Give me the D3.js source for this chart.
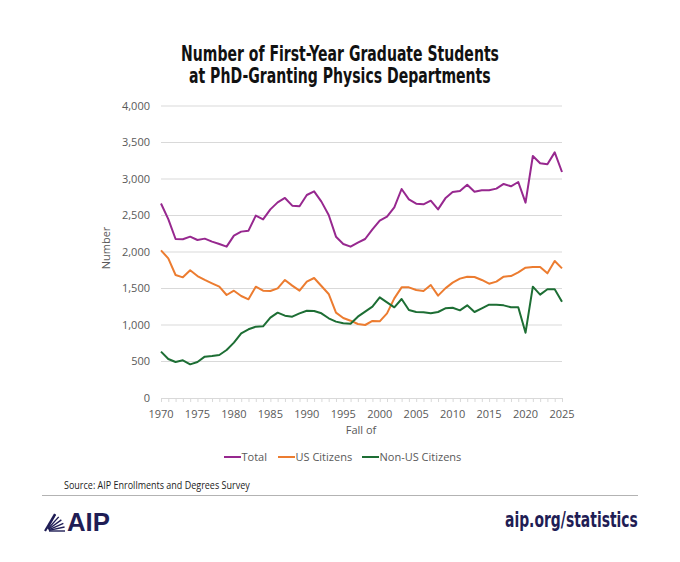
<!DOCTYPE html>
<html>
<head>
<meta charset="utf-8">
<script src="https://cdn.jsdelivr.net/npm/d3@7"></script>
<style>
  body { margin: 0; background: #fff; }
  svg { display: block; }
</style>
</head>
<body>
<div id="chart"></div>
<script>
// fall of each year
const years = d3.range(1970, 2026);

const total = [2665, 2450, 2178, 2174, 2210, 2164, 2183, 2142, 2110, 2073,
  2224, 2279, 2292, 2498, 2447, 2584, 2680, 2740, 2635, 2626,
  2781, 2831, 2690, 2507, 2210, 2110, 2073, 2128, 2178, 2310,
  2429, 2484, 2612, 2863, 2721, 2662, 2653, 2703, 2584, 2735,
  2822, 2836, 2922, 2826, 2845, 2845, 2868, 2932, 2900, 2959,
  2676, 3315, 3215, 3201, 3365, 3096];

const usCitizens = [2023, 1913, 1685, 1653, 1749, 1671, 1617, 1571, 1525, 1411,
  1470, 1397, 1352, 1525, 1470, 1466, 1502, 1617, 1539, 1470,
  1594, 1644, 1534, 1425, 1169, 1096, 1059, 1014, 1000, 1055,
  1050, 1160, 1365, 1516, 1516, 1479, 1466, 1548, 1402, 1502,
  1580, 1635, 1662, 1658, 1617, 1566, 1594, 1662, 1671, 1722,
  1785, 1795, 1795, 1708, 1877, 1776];

const nonUsCitizens = [635, 534, 493, 516, 461, 493, 566, 575, 589, 658,
  758, 886, 941, 977, 982, 1101, 1169, 1128, 1114, 1160,
  1196, 1192, 1160, 1092, 1046, 1023, 1018, 1114, 1183, 1251,
  1379, 1310, 1242, 1356, 1205, 1178, 1174, 1160, 1178, 1228,
  1237, 1201, 1269, 1178, 1228, 1279, 1279, 1269, 1242, 1242,
  895, 1525, 1416, 1489, 1489, 1320];

const yTicks = [0, 500, 1000, 1500, 2000, 2500, 3000, 3500, 4000];
const xTicks = d3.range(1970, 2026, 5);

const series = [
  { name: "Total", values: total, color: "#97288f" },
  { name: "US Citizens", values: usCitizens, color: "#ec7c30" },
  { name: "Non-US Citizens", values: nonUsCitizens, color: "#1d6e34" }
];

const width = 680, height = 562;
const svg = d3.select("#chart").append("svg")
  .attr("width", width)
  .attr("height", height);

const x = d3.scaleLinear().domain([1970, 2025]).range([161, 562]);
const y = d3.scaleLinear().domain([0, 4000]).range([398, 106]);

const axisFont = "'Open Sans', 'Noto Sans', sans-serif";
const titleFont = "'Liberation Sans Narrow', 'DejaVu Sans Condensed', 'Roboto', sans-serif";
const navy = "#1f1d55";

// squeeze a text horizontally so it spans the given width, anchored at (x, y)
function fit_text(sel, x0, y0, w, anchor) {
  const natural = sel.node().getComputedTextLength();
  const sx = w / natural;
  const left = anchor === "end" ? x0 - w : anchor === "middle" ? x0 - w / 2 : x0;
  sel.attr("x", 0).attr("y", 0).attr("text-anchor", "start")
    .attr("transform", "translate(" + left + "," + y0 + ") scale(" + sx + ",1)");
}

// title
const title = svg.append("g").attr("font-family", titleFont)
  .attr("font-weight", "bold").attr("font-size", 21).attr("fill", "#111");
fit_text(title.append("text").text("Number of First-Year Graduate Students"), 340, 60.5, 318, "middle");
fit_text(title.append("text").text("at PhD-Granting Physics Departments"), 340, 82.5, 302, "middle");

// gridlines
svg.append("g").selectAll("line")
  .data(yTicks.filter(d => d > 0))
  .join("line")
  .attr("x1", x(1970)).attr("x2", x(2025))
  .attr("y1", d => y(d)).attr("y2", d => y(d))
  .attr("stroke", "#d9d9d9").attr("stroke-width", 1);

// y labels
svg.append("g").selectAll("text")
  .data(yTicks)
  .join("text")
  .attr("x", 150).attr("y", d => y(d)).attr("dy", "0.35em")
  .attr("text-anchor", "end")
  .attr("font-family", axisFont).attr("font-size", 11).attr("fill", "#595959")
  .text(d => d3.format(",")(d));

svg.append("text")
  .attr("transform", "translate(110,248) rotate(-90)")
  .attr("text-anchor", "middle")
  .attr("font-family", axisFont).attr("font-size", 11).attr("fill", "#595959")
  .text("Number");

// x axis
const xAxis = d3.axisBottom(x)
  .tickValues(years)
  .tickSize(4)
  .tickFormat("");
const gx = svg.append("g").attr("transform", "translate(0," + y(0) + ")").call(xAxis);
gx.select(".domain").attr("stroke", "#d9d9d9");
gx.selectAll(".tick line").attr("stroke", "#d9d9d9");

svg.append("g").selectAll("text")
  .data(xTicks)
  .join("text")
  .attr("x", d => x(d)).attr("y", 418)
  .attr("text-anchor", "middle")
  .attr("font-family", axisFont).attr("font-size", 11).attr("fill", "#595959")
  .text(d => d);

svg.append("text")
  .attr("x", 361).attr("y", 434)
  .attr("text-anchor", "middle")
  .attr("font-family", axisFont).attr("font-size", 11).attr("fill", "#595959")
  .text("Fall of");

// lines
const line = d3.line()
  .x((d, i) => x(years[i]))
  .y(d => y(d));

svg.append("g").selectAll("path")
  .data(series)
  .join("path")
  .attr("d", d => line(d.values))
  .attr("fill", "none")
  .attr("stroke", d => d.color)
  .attr("stroke-width", 2)
  .attr("stroke-linejoin", "round");

// legend
const legendX = [224, 278, 362];
const legend = svg.append("g").selectAll("g")
  .data(series)
  .join("g")
  .attr("transform", (d, i) => "translate(" + legendX[i] + ",457)");
legend.append("line")
  .attr("x1", 0).attr("x2", 17)
  .attr("stroke", d => d.color).attr("stroke-width", 2);
legend.append("text")
  .attr("x", 17.5).attr("dy", "0.35em")
  .attr("font-family", axisFont).attr("font-size", 11).attr("fill", "#595959")
  .text(d => d.name);

// footer
const source = svg.append("text")
  .attr("font-family", axisFont).attr("font-size", 10).attr("fill", "#222")
  .text("Source: AIP Enrollments and Degrees Survey");
fit_text(source, 64, 489, 186, "start");

svg.append("line")
  .attr("x1", 42).attr("x2", 638).attr("y1", 495.5).attr("y2", 495.5)
  .attr("stroke", "#b3b3b3").attr("stroke-width", 1);

// AIP logo: fanned rays plus wordmark
const logo = svg.append("g").attr("transform", "translate(45,531)");
const rayAngles = [0, 12, 24, 36, 48, 60];
logo.selectAll("line")
  .data(rayAngles)
  .join("line")
  .attr("x1", d => 1 + 3 * Math.cos(d * Math.PI / 180))
  .attr("y1", d => -3 * Math.sin(d * Math.PI / 180))
  .attr("x2", d => 1 + 19 * Math.cos(d * Math.PI / 180))
  .attr("y2", d => -19 * Math.sin(d * Math.PI / 180))
  .attr("stroke", navy).attr("stroke-width", 1.4);
logo.append("line")
  .attr("x1", 0).attr("y1", 0).attr("x2", 10).attr("y2", -17)
  .attr("stroke", navy).attr("stroke-width", 2.2);

const aip = svg.append("text")
  .attr("font-family", "'Liberation Sans', Arial, sans-serif")
  .attr("font-weight", "bold").attr("font-size", 25).attr("fill", navy)
  .text("AIP");
fit_text(aip, 67, 531, 43, "start");

const url = svg.append("text")
  .attr("font-family", titleFont)
  .attr("font-weight", "bold").attr("font-size", 21).attr("fill", navy)
  .text("aip.org/statistics");
fit_text(url, 638, 527, 133, "end");
</script>
</body>
</html>
